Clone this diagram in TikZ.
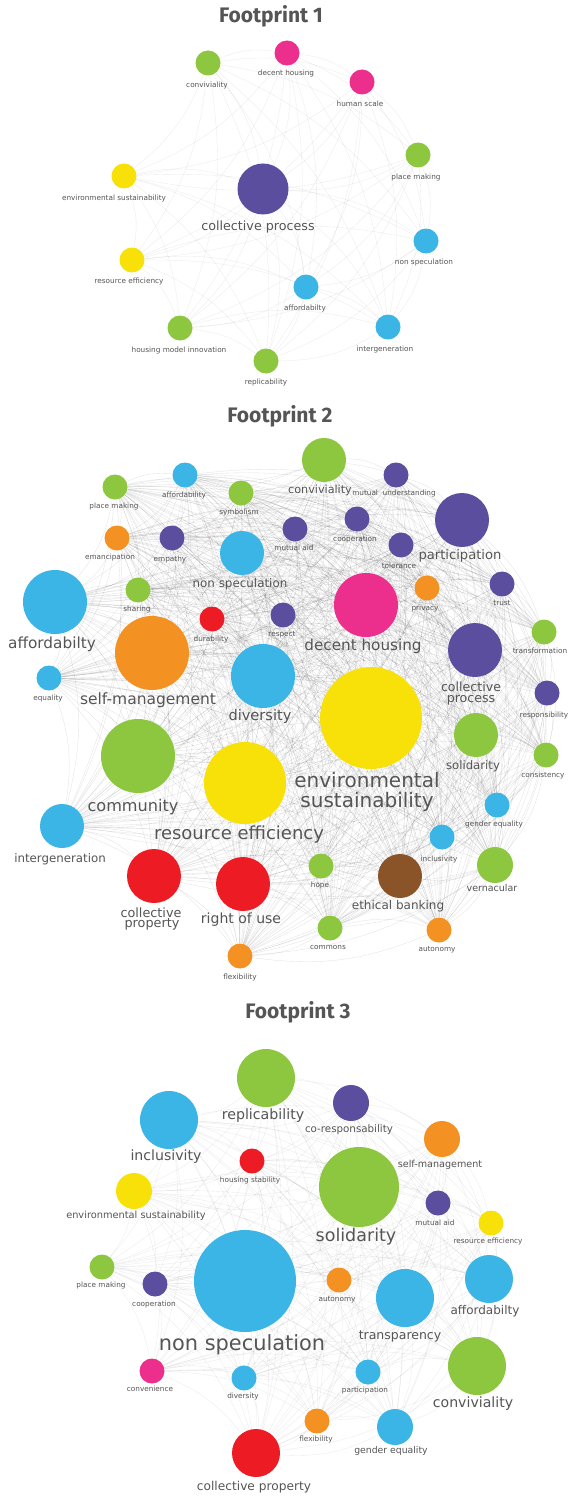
\documentclass[tikz,border=0pt]{standalone}
\usepackage{fontspec}
\setmainfont{DejaVu Sans}
\newfontfamily\titlefont{Fira Sans}
\usetikzlibrary{backgrounds}
\definecolor{cgreen}{HTML}{8DC63F}
\definecolor{cpink}{HTML}{EC2E8C}
\definecolor{cyellow}{HTML}{F7E108}
\definecolor{cpurple}{HTML}{5C4E9F}
\definecolor{cblue}{HTML}{3BB4E6}
\definecolor{corange}{HTML}{F39223}
\definecolor{cred}{HTML}{ED1C24}
\definecolor{cbrown}{HTML}{8B5428}
\definecolor{labgray}{HTML}{555555}
\definecolor{titlegray}{HTML}{555555}
\newcommand\Bub[9]{%
  \node[bubble, fill=#5, minimum size=#4*2] (#1) at (#2,#3) {};
  \node[lab, font=\fontsize{#7}{#7}\selectfont] (#1t) at (#8,{#9+0.22*#7}) {#6};
}
\newcommand\Lab[5]{%
  \node[lab, font=\fontsize{#4}{#4}\selectfont] (#1) at (#2,{#3+0.22*#4}) {#5};
}
\begin{document}
\begin{tikzpicture}[x=1pt,y=-1pt,
  bubble/.style={circle, inner sep=0pt, draw=none},
  lab/.style={text=labgray, inner sep=0pt, anchor=mid},
  ttl/.style={text=titlegray, inner sep=0pt, anchor=base, font=\titlefont\bfseries\fontsize{21}{21}\selectfont},
  edge/.style={draw=black, opacity=0.08, line width=0.35pt},
  edgeb/.style={draw=black, opacity=0.11, line width=0.35pt}]
\useasboundingbox (0,0) rectangle (569,1498);

% ---------------- Footprint 1 ----------------
\node[ttl] (t1) at (271,23) {Footprint 1};
\Bub{a1}{208}{63}{12.5}{cgreen}{conviviality}{7.3}{207}{83}
\Bub{a2}{287}{53}{12.5}{cpink}{decent housing}{7.3}{286}{71}
\Bub{a3}{362}{82}{12.5}{cpink}{human scale}{7.3}{360}{102}
\Bub{a4}{418}{155}{12.5}{cgreen}{place making}{7.3}{416}{175}
\Bub{a5}{124}{176}{12.5}{cyellow}{environmental sustainability}{7.3}{114}{196}
\Bub{a6}{263}{189}{25.5}{cpurple}{collective process}{12.7}{258}{225}
\Bub{a7}{132}{260}{12.5}{cyellow}{resource efficiency}{7.3}{129}{279}
\Bub{a8}{426}{241}{12.5}{cblue}{non speculation}{7.3}{424}{260}
\Bub{a9}{306}{287}{12.5}{cblue}{affordabilty}{7.3}{305}{306}
\Bub{a10}{180}{328}{12.5}{cgreen}{housing model innovation}{7.3}{179}{348}
\Bub{a11}{388}{327}{12.5}{cblue}{intergeneration}{7.3}{385}{347}
\Bub{a12}{266}{361}{12.5}{cgreen}{replicability}{7.3}{266}{380}

% ---------------- Footprint 2 ----------------
\node[ttl] (t2) at (280,422) {Footprint 2};
\Bub{b1}{324}{460}{22}{cgreen}{conviviality}{11.2}{320}{488}
\Bub{b2}{396}{475}{12.5}{cpurple}{mutual\ \ understanding}{7.3}{394}{491}
\Bub{b3}{115}{487}{12.5}{cgreen}{place making}{7.3}{114}{504}
\Bub{b4}{185}{475}{12.5}{cblue}{affordability}{7.3}{184}{493}
\Bub{b5}{241}{493}{12.5}{cgreen}{symbolism}{7.3}{239}{510}
\Bub{b6}{117}{538}{12.5}{corange}{emancipation}{7.3}{110}{555}
\Bub{b7}{172}{538}{12.5}{cpurple}{empathy}{7.3}{170}{557}
\Bub{b8}{242}{553}{22}{cblue}{non speculation}{11.9}{240}{582}
\Bub{b9}{295}{529}{12.5}{cpurple}{mutual aid}{7.3}{294}{546}
\Bub{b10}{357}{519}{12.5}{cpurple}{cooperation}{7.3}{355}{537}
\Bub{b11}{401}{545}{12.5}{cpurple}{tolerance}{7.3}{399}{564}
\Bub{b12}{462}{520}{27}{cpurple}{participation}{13.1}{460}{554}
\Bub{b13}{55}{602}{32}{cblue}{affordabilty}{15.3}{52}{642}
\Bub{b14}{138}{590}{12.5}{cgreen}{sharing}{7.3}{137}{607}
\Bub{b15}{212}{619}{12.5}{cred}{durability}{7.3}{211}{637}
\Bub{b16}{283}{615}{12.5}{cpurple}{respect}{7.3}{282}{632}
\Bub{b17}{366}{605}{32}{cpink}{decent housing}{15.2}{363}{644}
\Bub{b18}{427}{588}{12.5}{corange}{privacy}{7.3}{425}{606}
\Bub{b19}{502}{584}{12.5}{cpurple}{trust}{7.3}{502}{601}
\Bub{b20}{544}{632}{12.5}{cgreen}{transformation}{7.3}{540}{649}
\Bub{b21}{152}{653}{37}{corange}{self-management}{15.5}{148}{698}
\Bub{b22}{49}{678}{12.5}{cblue}{equality}{7.3}{48}{696}
\Bub{b23}{263}{676}{32}{cblue}{diversity}{14.6}{260}{715}
\Bub{b24}{371}{718}{51}{cyellow}{environmental}{20}{367}{780}
\Lab{b24u}{367}{800}{20}{sustainability}
\Bub{b25}{475}{650}{27}{cpurple}{collective}{12.6}{471}{686}
\Lab{b25u}{471}{697}{12.6}{process}
\Bub{b26}{547}{693}{12.5}{cpurple}{responsibility}{7.3}{544}{713}
\Bub{b27}{138}{756}{37}{cgreen}{community}{16.1}{133}{805}
\Bub{b28}{245}{783}{41}{cyellow}{resource efficiency}{18}{239}{833}
\Bub{b29}{476}{735}{22}{cgreen}{solidarity}{11.7}{473}{764}
\Bub{b30}{546}{755}{12.5}{cgreen}{consistency}{7.3}{543}{773}
\Bub{b31}{497}{805}{12.5}{cblue}{gender equality}{7.3}{494}{822}
\Bub{b32}{62}{826}{22}{cblue}{intergeneration}{11.8}{60}{857}
\Bub{b33}{442}{837}{12.5}{cblue}{inclusivity}{7.3}{439}{857}
\Bub{b34}{495}{865}{18}{cgreen}{vernacular}{9.5}{492}{887}
\Bub{b35}{154}{876}{27}{cred}{collective}{12.8}{151}{912}
\Lab{b35u}{152}{922}{12.8}{property}
\Bub{b36}{243}{884}{27}{cred}{right of use}{14}{241}{918}
\Bub{b37}{321}{866}{12.5}{cgreen}{hope}{7.3}{320}{883}
\Bub{b38}{400}{876}{22}{cbrown}{ethical banking}{12}{398}{904}
\Bub{b39}{330}{928}{12.5}{cgreen}{commons}{7.3}{328}{945}
\Bub{b40}{439}{930}{12.5}{corange}{autonomy}{7.3}{437}{947}
\Bub{b41}{240}{956}{12.5}{corange}{flexibility}{7.3}{240}{975}

% ---------------- Footprint 3 ----------------
\node[ttl] (t3) at (298,1018) {Footprint 3};
\Bub{c1}{266}{1078}{29}{cgreen}{replicability}{14.2}{263}{1114}
\Bub{c2}{351}{1103}{18}{cpurple}{co-responsability}{10.3}{349}{1127}
\Bub{c3}{169}{1120}{29}{cblue}{inclusivity}{14.1}{166}{1155}
\Bub{c4}{442}{1139}{18}{corange}{self-management}{9.6}{440}{1163}
\Bub{c5}{252}{1161}{12.5}{cred}{housing stability}{7.3}{250}{1178}
\Bub{c6}{359}{1187}{40}{cgreen}{solidarity}{17.5}{356}{1235}
\Bub{c7}{134}{1191}{18}{cyellow}{environmental sustainability}{9.8}{136}{1214}
\Bub{c8}{438}{1203}{12.5}{cpurple}{mutual aid}{7.3}{435}{1221}
\Bub{c9}{491}{1223}{12.5}{cyellow}{resource efficiency}{7.3}{488}{1239}
\Bub{c10}{245}{1281}{51}{cblue}{non speculation}{20.9}{242}{1343}
\Bub{c11}{102}{1267}{12.5}{cgreen}{place making}{7.3}{101}{1283}
\Bub{c12}{155}{1284}{12.5}{cpurple}{cooperation}{7.3}{154}{1302}
\Bub{c13}{339}{1280}{12.5}{corange}{autonomy}{7.3}{337}{1297}
\Bub{c14}{405}{1298}{29}{cblue}{transparency}{12.5}{400}{1334}
\Bub{c15}{489}{1279}{24}{cblue}{affordabilty}{12}{485}{1309}
\Bub{c16}{152}{1371}{12.5}{cpink}{convenience}{7.3}{150}{1387}
\Bub{c17}{244}{1378}{12.5}{cblue}{diversity}{7.3}{243}{1394}
\Bub{c18}{368}{1372}{12.5}{cblue}{participation}{7.3}{365}{1388}
\Bub{c19}{477}{1366}{29}{cgreen}{conviviality}{14.1}{473}{1402}
\Bub{c20}{317}{1421}{12.5}{corange}{flexibility}{7.3}{316}{1437}
\Bub{c21}{395}{1427}{18}{cblue}{gender equality}{9.3}{391}{1449}
\Bub{c22}{256}{1453}{24}{cred}{collective property}{12.2}{254}{1485}

\begin{scope}[on background layer]
\fill[white] (0,0) rectangle (569,1498);
\foreach \i in {1,...,12}{\foreach \j in {1,...,12}{\ifnum\i<\j \draw[edge] (a\i) to[bend left=15] (a\j);\fi}}
\foreach \i in {1,...,41}{\foreach \j in {1,...,41}{\ifnum\i<\j \draw[edgeb] (b\i) to[bend left=15] (b\j);\fi}}
\foreach \i in {1,...,22}{\foreach \j in {1,...,22}{\ifnum\i<\j \draw[edge] (c\i) to[bend left=15] (c\j);\fi}}
\end{scope}
\end{tikzpicture}
\end{document}
